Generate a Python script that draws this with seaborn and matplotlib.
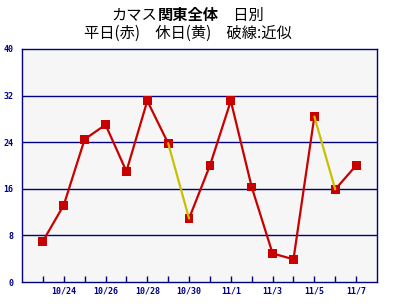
import matplotlib
matplotlib.use("Agg")
import matplotlib.pyplot as plt
import seaborn as sns
import pandas as pd
import numpy as np

dates = ["10/23", "10/24", "10/25", "10/26", "10/27", "10/28", "10/29", "10/30",
         "10/31", "11/1", "11/2", "11/3", "11/4", "11/5", "11/6", "11/7"]
values = [7.0, 13.2, 24.5, 27.0, 19.0, 31.1, 23.8, 10.9,
          20.0, 31.1, 16.3, 4.9, 3.9, 28.4, 15.9, 20.0]
# segment colours: 'w' weekday (red), 'h' holiday (yellow); segment i joins point i and i+1
segment_kind = ["w", "w", "w", "w", "w", "w", "h", "w",
                "w", "w", "w", "w", "w", "h", "w"]
yticks = [0, 8, 16, 24, 32, 40]

RED = "#c80000"
YEL = "#c8c000"
NAVY = "#000080"

sns.set_theme(style="white")
plt.rcParams["font.family"] = ["Noto Sans CJK JP", "DejaVu Sans"]

fig = plt.figure(figsize=(3.95, 3.07), dpi=100)
ax = fig.add_axes([22 / 395, 1 - 282 / 307, 355 / 395, 233 / 307])
ax.set_facecolor("#f6f6f6")

df = pd.DataFrame({"day": np.arange(len(values)), "value": values})

# red runs
runs = []
cur = [0]
for i, k in enumerate(segment_kind):
    if k == "w":
        cur.append(i + 1)
    else:
        runs.append(cur)
        cur = [i + 1]
runs.append(cur)

for r in runs:
    if len(r) > 1:
        sns.lineplot(data=df.iloc[r], x="day", y="value", color=RED, lw=1.6,
                     ax=ax, legend=False, zorder=3)

sns.scatterplot(data=df, x="day", y="value", marker="s", s=40, color=RED,
                edgecolor="none", linewidth=0, ax=ax, zorder=4, legend=False)

for i, k in enumerate(segment_kind):
    if k == "h":
        sns.lineplot(data=df.iloc[[i, i + 1]], x="day", y="value", color=YEL,
                     lw=1.6, ax=ax, legend=False, zorder=5)

ax.set_xlim(-1, 16)
ax.set_ylim(0, 40)
for yv in yticks[1:-1]:
    ax.axhline(yv, color=NAVY, lw=1.0, zorder=1)

ax.set_yticks(yticks)
ax.set_yticklabels([str(v) for v in yticks], color=NAVY,
                   fontfamily="DejaVu Sans Mono", fontweight="bold", fontsize=6)
ax.tick_params(axis="y", length=0, pad=6)

ax.set_xticks(list(range(len(dates))))
ax.set_xticklabels([d if i % 2 == 1 else "" for i, d in enumerate(dates)],
                   color=NAVY, fontfamily="DejaVu Sans Mono", fontweight="bold",
                   fontsize=6)
ax.tick_params(axis="x", direction="in", length=4, width=1, color=NAVY, pad=3,
               bottom=True)
ax.set_xlabel("")
ax.set_ylabel("")
for s in ax.spines.values():
    s.set_color(NAVY)
    s.set_linewidth(1.0)
    s.set_visible(True)

# title line 1 with bold part
fs = 11
parts = [("カマス", "normal"), ("関東全体", "bold"), ("　日別", "normal")]
texts = [fig.text(0, 1 - 15 / 307, p, fontsize=fs, fontweight=w, va="center",
                  ha="left", color="black") for p, w in parts]
fig.canvas.draw()
r = fig.canvas.get_renderer()
widths = [t.get_window_extent(r).width for t in texts]
total = sum(widths)
x0 = 188 - total / 2
for t, w in zip(texts, widths):
    t.set_x(x0 / 395)
    x0 += w

fig.text(188 / 395, 1 - 33 / 307, "平日(赤)　休日(黄)　破線:近似", fontsize=fs,
         ha="center", va="center", color="black")

fig.savefig("out.png", dpi=100, facecolor="white")
